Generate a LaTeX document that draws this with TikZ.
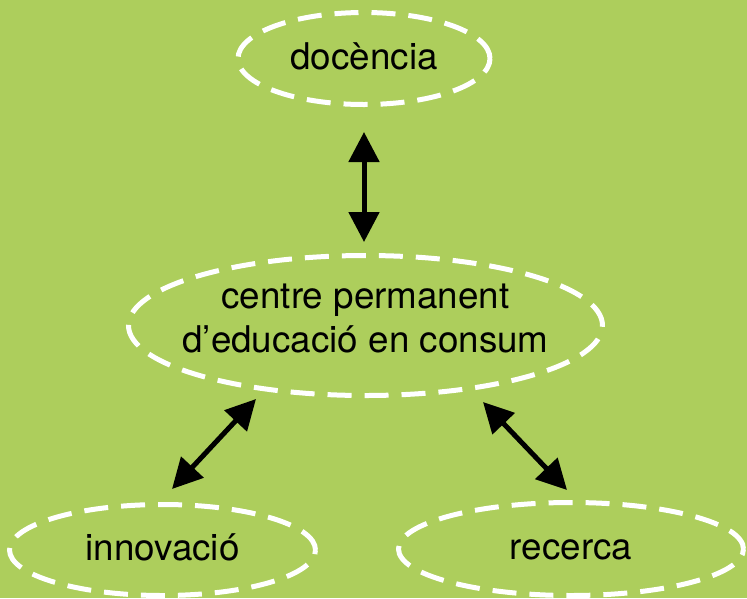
\documentclass[tikz,border=0pt]{standalone}
\usepackage{fontspec}
\setmainfont{TeX Gyre Heros}
\usetikzlibrary{shapes.geometric,arrows.meta}
\definecolor{bg}{RGB}{173,206,92}
\begin{document}
\begin{tikzpicture}[x=1pt,y=1pt,
  bubble/.style={ellipse, draw=white, line width=5pt, dash pattern=on 24pt off 13pt,
    inner sep=0pt, font=\fontsize{36.8}{44}\selectfont, text=black, align=center,
    text height=27pt, text depth=6pt},
  link/.style={line width=5pt,
    {Triangle[length=30pt,width=30pt]}-{Triangle[length=30pt,width=30pt]}}]
\fill[bg] (0,0) rectangle (747,-598);
\useasboundingbox (0,0) rectangle (747,-598);
\node[bubble, minimum width=252pt, minimum height=92pt] (doc) at (364,-58.5) {docència};
\node[bubble, minimum width=474pt, minimum height=140pt, inner xsep=-40pt,
  text height=71pt, text depth=18pt] (cen) at (365.5,-325.5) {centre permanent\\d’educació en consum};
\node[bubble, minimum width=306pt, minimum height=91pt] (inn) at (162.5,-550) {innovació};
\node[bubble, minimum width=345pt, minimum height=93pt] (rec) at (571,-549) {recerca};
\draw[link] ([shift={(0,-73.5)}]doc.center) -- ([shift={(-1.5,83.5)}]cen.center);
\draw[link] ([shift={(-109.5,-73.5)}]cen.center) -- ([shift={(9.5,61)}]inn.center);
\draw[link] ([shift={(117.5,-76.5)}]cen.center) -- ([shift={(-4,59)}]rec.center);
\end{tikzpicture}
\end{document}
